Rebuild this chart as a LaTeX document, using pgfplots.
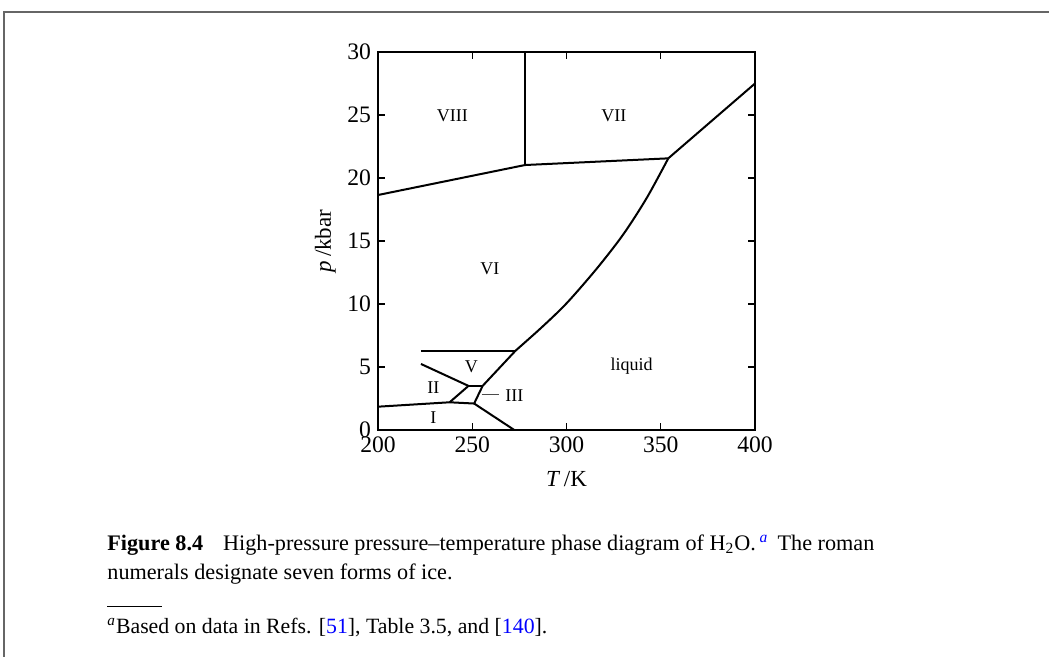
\documentclass[border=0pt]{standalone}
\usepackage{fontspec}
\setmainfont{Liberation Serif}
\usepackage{xcolor}
\usepackage{pgfplots}
\pgfplotsset{compat=1.18}
\begin{document}
\begin{tikzpicture}
\useasboundingbox (0,0) rectangle (524.5pt,-328.5pt);
% frame
\draw[gray!80!black, line width=1pt] (2pt,-328.5pt) -- (2pt,-6pt) -- (524.5pt,-6pt);
\begin{axis}[
  at={(189pt,-215pt)}, anchor=south west,
  scale only axis, width=188.5pt, height=189pt,
  xmin=200, xmax=400, ymin=0, ymax=30,
  xtick={200,250,300,350,400}, ytick={0,5,10,15,20,25,30},
  tick align=inside, major tick length=3.5pt,
  axis line style={line width=0.8pt}, tick style={line width=0.6pt, black},
  /pgf/number format/assume math mode=true,
  ticklabel style={font=\fontsize{11.8}{14}\selectfont},
  xlabel={\textit{T}\,/K}, ylabel={\textit{p}\,/kbar},
  label style={font=\fontsize{11.5}{14}\selectfont},
  xlabel style={at={(axis description cs:0.5,-0.13)}, anchor=center},
  ylabel style={at={(axis description cs:-0.14,0.5)}, anchor=center, rotate=0},
  cycle list={{black, solid, no marks}},
  every axis plot/.append style={line width=1pt, line join=round},
  clip=false,
]
% ice I / II-III boundary
\addplot coordinates {(200,1.85) (238,2.2) (251,2.1)};
% ice I melting
\addplot coordinates {(251,2.1) (272.3,0)};
% II-III
\addplot coordinates {(238,2.2) (248,3.5)};
% III-V
\addplot coordinates {(248,3.5) (255.5,3.5)};
% melting curve (III, V)
\addplot coordinates {(251,2.1) (255.5,3.5) (273,6.3)};
% melting curve (VI)
\addplot+[smooth, tension=0.5] coordinates {(273,6.3) (286.5,8.1) (300,10.05) (316,12.8) (330,15.5) (342.5,18.4) (354,21.56)};
% melting curve (VII)
\addplot coordinates {(354,21.56) (400,27.5)};
% II-V
\addplot coordinates {(222.8,5.24) (248,3.5)};
% V-VI
\addplot coordinates {(222.8,6.3) (273,6.3)};
% VI-VII
\addplot coordinates {(278,21.03) (354,21.56)};
% VI-VIII
\addplot coordinates {(200,18.65) (278,21.03)};
% VII-VIII
\addplot coordinates {(278,21.03) (278,30)};
% III leader
\addplot[line width=0.5pt, black!70, solid, no marks] coordinates {(255,2.78) (264.3,2.78)};
\begin{scope}[every node/.style={font=\fontsize{9}{11}\selectfont, anchor=base}]
\node at (axis cs:239.5,24.47) {VIII};
\node at (axis cs:325.1,24.47) {VII};
\node at (axis cs:259.4,12.38) {VI};
\node at (axis cs:334.6,4.71) {liquid};
\node at (axis cs:249.5,4.55) {V};
\node at (axis cs:229.4,2.91) {II};
\node at (axis cs:229.4,0.48) {I};
\node at (axis cs:272.4,2.25) {III};
\end{scope}
\end{axis}
% caption
\begin{scope}[every node/.style={anchor=base west, inner sep=0pt, font=\fontsize{11.1}{14}\selectfont}]
\node at (53.5pt,-275pt) {\textbf{Figure 8.4}\hspace{0.9em}High-pressure pressure--temperature phase diagram of H\textsubscript{2}O.\,\textsuperscript{\textcolor{blue}{\itshape a}}\, The roman};
\node at (53.5pt,-289.5pt) {numerals designate seven forms of ice.};
\end{scope}
\draw[line width=0.5pt] (53.5pt,-303pt) -- (81pt,-303pt);
\node[anchor=base west, inner sep=0pt, font=\fontsize{10.9}{13}\selectfont] at (53.5pt,-316.5pt) {\textsuperscript{\itshape a}Based on data in Refs. [\textcolor{blue}{51}], Table 3.5, and [\textcolor{blue}{140}].};
\end{tikzpicture}
\end{document}
